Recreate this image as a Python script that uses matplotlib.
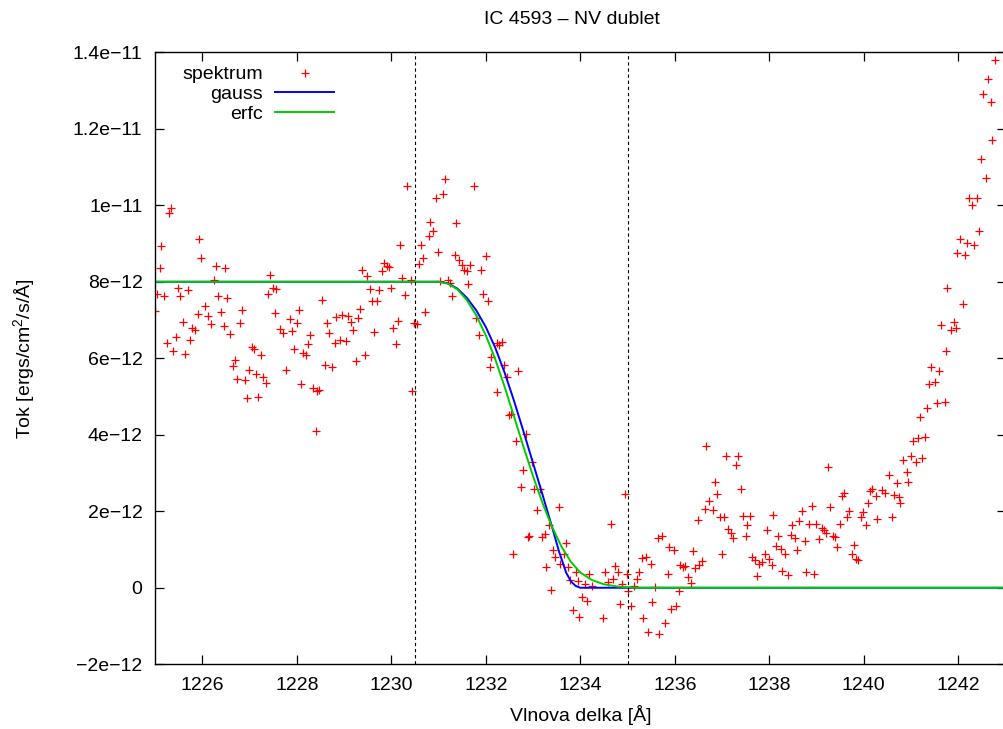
import matplotlib
matplotlib.use('Agg')
import matplotlib.pyplot as plt
from matplotlib.ticker import FixedLocator, FixedFormatter

plt.rcParams['font.family'] = ['Liberation Sans', 'DejaVu Sans']
plt.rcParams['mathtext.default'] = 'regular'

# spectrum: wavelength [A] and flux [1e-12 ergs/cm2/s/A]
wave = [
    1225.00, 1225.05, 1225.10, 1225.13, 1225.20, 1225.25, 1225.29, 1225.34, 1225.39, 1225.45,
    1225.48, 1225.53, 1225.59, 1225.64, 1225.70, 1225.75, 1225.79, 1225.84, 1225.90, 1225.93,
    1225.98, 1226.05, 1226.12, 1226.19, 1226.25, 1226.29, 1226.33, 1226.39, 1226.45, 1226.48,
    1226.52, 1226.59, 1226.64, 1226.69, 1226.74, 1226.80, 1226.85, 1226.90, 1226.94, 1226.99,
    1227.05, 1227.09, 1227.14, 1227.19, 1227.24, 1227.28, 1227.34, 1227.39, 1227.43, 1227.49,
    1227.53, 1227.57, 1227.64, 1227.71, 1227.77, 1227.86, 1227.89, 1227.94, 1228.00, 1228.05,
    1228.09, 1228.13, 1228.19, 1228.24, 1228.29, 1228.34, 1228.41, 1228.43, 1228.47, 1228.53,
    1228.59, 1228.64, 1228.69, 1228.75, 1228.81, 1228.84, 1228.91, 1228.95, 1229.04, 1229.08,
    1229.14, 1229.19, 1229.25, 1229.30, 1229.33, 1229.39, 1229.44, 1229.48, 1229.54, 1229.60,
    1229.64, 1229.70, 1229.74, 1229.80, 1229.84, 1229.90, 1229.95, 1229.99, 1230.04, 1230.09,
    1230.14, 1230.19, 1230.22, 1230.29, 1230.33, 1230.41, 1230.43, 1230.49, 1230.54, 1230.58,
    1230.63, 1230.68, 1230.72, 1230.79, 1230.83, 1230.88, 1230.94, 1230.99, 1231.04, 1231.09,
    1231.14, 1231.20, 1231.25, 1231.28, 1231.34, 1231.38, 1231.43, 1231.49, 1231.53, 1231.60,
    1231.63, 1231.66, 1231.75, 1231.79, 1231.85, 1231.89, 1231.94, 1232.00, 1232.05, 1232.09,
    1232.12, 1232.23, 1232.24, 1232.28, 1232.35, 1232.38, 1232.44, 1232.49, 1232.53, 1232.58,
    1232.63, 1232.68, 1232.74, 1232.78, 1232.85, 1232.89, 1232.92, 1232.98, 1233.02, 1233.09,
    1233.14, 1233.19, 1233.25, 1233.28, 1233.33, 1233.39, 1233.42, 1233.47, 1233.54, 1233.58,
    1233.65, 1233.69, 1233.75, 1233.78, 1233.84, 1233.91, 1233.96, 1233.98, 1234.04, 1234.10,
    1234.14, 1234.19, 1234.24, 1234.48, 1234.53, 1234.58, 1234.64, 1234.69, 1234.74, 1234.79,
    1234.84, 1234.89, 1234.94, 1234.98, 1235.02, 1235.08, 1235.14, 1235.20, 1235.24, 1235.30,
    1235.32, 1235.40, 1235.43, 1235.49, 1235.51, 1235.58, 1235.64, 1235.67, 1235.72, 1235.79,
    1235.85, 1235.88, 1235.93, 1235.98, 1236.02, 1236.09, 1236.12, 1236.17, 1236.21, 1236.28,
    1236.35, 1236.38, 1236.42, 1236.49, 1236.52, 1236.58, 1236.63, 1236.67, 1236.73, 1236.80,
    1236.85, 1236.90, 1236.96, 1237.00, 1237.05, 1237.08, 1237.13, 1237.19, 1237.24, 1237.29,
    1237.34, 1237.40, 1237.45, 1237.50, 1237.53, 1237.59, 1237.63, 1237.69, 1237.74, 1237.78,
    1237.84, 1237.90, 1237.95, 1237.99, 1238.05, 1238.08, 1238.15, 1238.19, 1238.24, 1238.27,
    1238.34, 1238.40, 1238.45, 1238.49, 1238.54, 1238.59, 1238.64, 1238.69, 1238.75, 1238.78,
    1238.85, 1238.90, 1238.95, 1238.99, 1239.05, 1239.12, 1239.16, 1239.21, 1239.24, 1239.29,
    1239.35, 1239.40, 1239.44, 1239.49, 1239.54, 1239.58, 1239.64, 1239.68, 1239.75, 1239.79,
    1239.83, 1239.87, 1239.94, 1239.99, 1240.04, 1240.09, 1240.13, 1240.18, 1240.25, 1240.28,
    1240.39, 1240.44, 1240.53, 1240.59, 1240.63, 1240.70, 1240.74, 1240.77, 1240.83, 1240.92,
    1240.94, 1240.99, 1241.04, 1241.10, 1241.15, 1241.18, 1241.24, 1241.30, 1241.34, 1241.38,
    1241.43, 1241.50, 1241.54, 1241.59, 1241.64, 1241.71, 1241.74, 1241.77, 1241.84, 1241.90,
    1241.96, 1241.98, 1242.03, 1242.10, 1242.15, 1242.18, 1242.22, 1242.29, 1242.34, 1242.39,
    1242.43, 1242.49, 1242.53, 1242.58, 1242.63, 1242.69, 1242.72, 1242.78,
]
flux = [
    7.24, 7.69, 8.36, 8.94, 7.63, 6.41, 9.81, 9.94, 6.20, 6.55,
    7.85, 7.64, 6.94, 6.12, 7.78, 6.47, 6.80, 6.75, 7.17, 9.13,
    8.62, 7.36, 7.11, 6.89, 8.04, 8.42, 7.62, 7.20, 6.84, 8.35,
    7.57, 6.63, 5.80, 5.95, 5.47, 6.92, 7.27, 5.42, 4.95, 5.69,
    6.30, 6.24, 5.60, 5.00, 6.08, 5.51, 5.36, 7.67, 8.19, 7.84,
    7.19, 7.82, 6.76, 6.67, 5.70, 7.02, 6.71, 6.23, 6.92, 7.27,
    5.32, 6.15, 6.08, 6.36, 6.60, 5.21, 4.09, 5.14, 5.16, 7.52,
    5.82, 6.91, 6.65, 5.77, 6.40, 7.08, 6.47, 7.14, 6.44, 7.11,
    6.95, 6.73, 5.93, 7.05, 7.30, 8.30, 6.08, 8.14, 7.82, 7.51,
    6.69, 7.49, 7.78, 8.27, 8.49, 8.41, 8.39, 7.85, 6.78, 6.38,
    6.97, 8.95, 8.10, 7.65, 10.50, 8.04, 5.14, 6.91, 6.89, 8.47,
    8.97, 8.63, 7.21, 9.19, 9.56, 9.32, 10.20, 8.77, 8.02, 10.30,
    10.69, 8.04, 7.97, 7.64, 8.71, 9.53, 8.58, 8.43, 8.32, 8.28,
    7.93, 8.45, 10.50, 7.05, 6.62, 8.32, 7.67, 8.67, 7.49, 5.76,
    6.03, 6.40, 5.13, 6.34, 6.43, 5.82, 5.50, 4.51, 4.55, 0.87,
    3.84, 5.66, 2.64, 3.07, 4.03, 1.33, 1.35, 3.29, 2.59, 2.03,
    2.59, 1.33, 1.40, 0.53, 1.63, -0.05, 0.98, 0.81, 2.10, 0.61,
    0.89, 1.18, 0.54, 0.20, -0.59, 0.41, 0.18, -0.76, -0.24, 0.09,
    -0.35, 0.37, 0.04, -0.78, 0.40, 0.14, 1.68, 0.24, 0.57, 0.41,
    -0.42, 0.09, 2.44, 0.37, -0.09, -0.48, 0.05, 0.24, 0.40, 0.78,
    -0.78, 0.81, -1.16, 0.61, -0.37, 0.02, 1.29, -1.20, 1.35, -0.92,
    0.35, 1.07, -0.56, 0.98, -0.48, -0.08, 0.59, 0.54, 0.58, 0.28,
    0.13, 0.96, 0.52, 1.76, 0.59, 0.70, 2.07, 3.70, 2.26, 2.03,
    2.77, 2.44, 1.84, 0.87, 1.85, 3.44, 1.53, 1.42, 1.31, 3.22,
    3.45, 2.59, 1.88, 1.36, 1.63, 1.88, 0.81, 0.72, 0.30, 0.63,
    0.67, 0.89, 1.50, 0.74, 0.59, 1.91, 1.08, 1.35, 1.02, 0.43,
    0.87, 0.33, 1.37, 1.63, 1.29, 1.00, 1.74, 2.00, 1.22, 0.40,
    1.66, 2.13, 0.37, 1.68, 1.27, 1.57, 1.50, 1.42, 3.16, 2.10,
    1.35, 1.33, 1.07, 1.66, 2.39, 2.48, 1.85, 2.00, 0.87, 1.13,
    0.76, 0.72, 1.84, 1.98, 1.63, 2.22, 2.54, 2.57, 2.41, 1.79,
    2.55, 2.49, 2.94, 1.85, 2.42, 2.74, 2.36, 2.22, 3.33, 3.03,
    2.77, 3.44, 3.84, 3.29, 3.92, 4.47, 3.40, 3.93, 4.71, 5.32,
    5.77, 5.38, 4.82, 5.67, 6.86, 4.86, 6.18, 7.84, 6.75, 6.95,
    6.78, 8.75, 9.13, 7.43, 8.69, 9.02, 10.20, 10.00, 8.95, 10.20,
    9.33, 11.20, 12.90, 10.71, 13.29, 12.70, 11.70, 13.79,
]

# fitted curves
gauss_x = [1225.00, 1231.00, 1231.20, 1231.40, 1231.60, 1231.80, 1232.00, 1232.20, 1232.40,
           1232.60, 1232.80, 1233.00, 1233.20, 1233.40, 1233.55, 1233.70, 1233.80, 1233.90,
           1234.00, 1243.00]
gauss_y = [8.00, 8.00, 7.96, 7.82, 7.58, 7.25, 6.82, 6.28, 5.62,
           4.88, 4.08, 3.26, 2.44, 1.60, 0.95, 0.40, 0.17, 0.05,
           0.00, 0.00]
erfc_x = [1225.00, 1231.00, 1231.20, 1231.40, 1231.60, 1231.80, 1232.00, 1232.20, 1232.40,
          1232.60, 1232.80, 1233.00, 1233.20, 1233.40, 1233.60, 1233.80, 1234.00, 1234.25,
          1234.50, 1234.80, 1235.20, 1243.00]
erfc_y = [8.00, 8.00, 7.95, 7.80, 7.52, 7.12, 6.60, 5.98, 5.25,
          4.47, 3.68, 2.92, 2.22, 1.60, 1.08, 0.68, 0.40, 0.20,
          0.09, 0.03, 0.00, 0.00]

line_limits = [1230.5, 1235.0]

xticks = [1226, 1228, 1230, 1232, 1234, 1236, 1238, 1240, 1242]
yticks = [-2, 0, 2, 4, 6, 8, 10, 12, 14]
ytick_labels = ['\u22122e\u221212', '0', '2e\u221212', '4e\u221212', '6e\u221212',
                '8e\u221212', '1e\u221211', '1.2e\u221211', '1.4e\u221211']

fig = plt.figure(figsize=(10.04, 7.29), dpi=100)
ax = fig.add_axes([0.1544, 0.0888, 0.8471, 0.8395])

ax.plot(wave, flux, linestyle='none', marker='+', color='#ff0000',
        markersize=6.3, markeredgewidth=0.9, label='spektrum')
ax.plot(gauss_x, gauss_y, color='#0000ff', lw=1.4, label='gauss')
ax.plot(erfc_x, erfc_y, color='#00cc00', lw=1.4, label='erfc')

for xv in line_limits:
    ax.axvline(xv, color='black', lw=0.8, dashes=(3, 2.5))

ax.set_xlim(1225, 1243)
ax.set_ylim(-2, 14)
ax.xaxis.set_major_locator(FixedLocator(xticks))
ax.yaxis.set_major_locator(FixedLocator(yticks))
ax.yaxis.set_major_formatter(FixedFormatter(ytick_labels))
ax.tick_params(direction='in', length=6.7, width=0.9, labelsize=14,
               top=True, right=True, pad=9)
for sp in ax.spines.values():
    sp.set_linewidth(1.0)

ax.set_xlabel('Vlnova delka [Å]', fontsize=14, labelpad=8)
ax.set_ylabel('Tok [ergs/cm$^2$/s/Å]', fontsize=14)
ax.yaxis.set_label_coords(-0.139, 0.5)
ax.set_title('IC 4593 \u2013 NV dublet', fontsize=14, pad=20, x=0.49)

# text first, sample after it; rows right-aligned as in gnuplot
ax.legend(loc='upper left', bbox_to_anchor=(0.032, 0.978), frameon=False,
          markerfirst=False, fontsize=14, handlelength=3.0,
          handletextpad=0.65, labelspacing=0.12, borderpad=0.0,
          borderaxespad=0.0)

fig.savefig('out.png', dpi=100)
